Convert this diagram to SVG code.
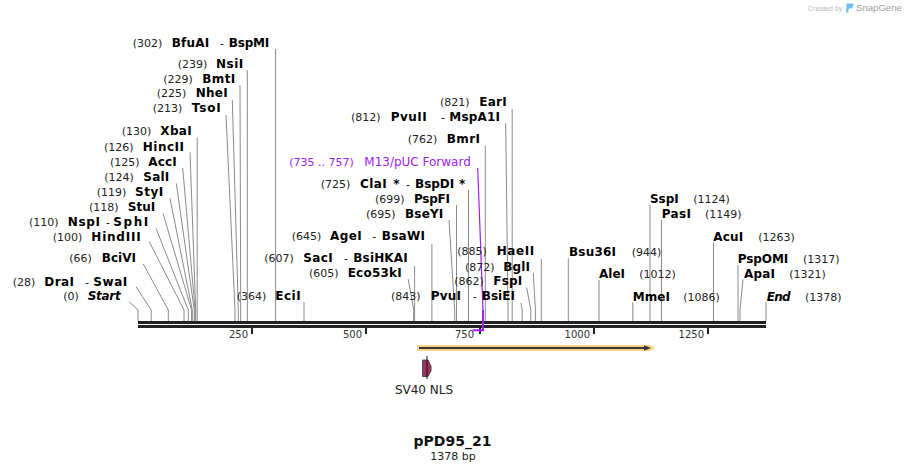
<svg xmlns="http://www.w3.org/2000/svg" width="905" height="471" viewBox="0 0 905 471">
<style>
text{font-family:"DejaVu Sans",Verdana,sans-serif}
.n{font-size:11px;fill:#222}
.e{font-size:12px;font-weight:bold;fill:#000}
.i{font-size:12px;font-weight:bold;font-style:italic;fill:#000}
.h{font-size:11px;fill:#000}
.t{font-size:10px;fill:#333}
.c{fill:none;stroke:#8a8a8a;stroke-width:1}
</style>
<rect width="905" height="471" fill="#fff"/>

<g id="logo">
<text x="808" y="10.5" style="font-family:'Liberation Sans',Arial,sans-serif;font-size:7px;fill:#bbb">Created by</text>
<path d="M846.5,3.5 L853,3.5 Q854,3.5 853.5,5 L852,8.5 L849,8.5 L848,12.5 L846,12.5 Z" fill="#6ec0f2"/>
<text x="856" y="11" style="font-family:'Liberation Sans',Arial,sans-serif;font-size:9.6px;fill:#a0a0a0">SnapGene</text>
</g>

<g id="connectors">
<path class="c" d="M275.6,49V321"/>
<path class="c" d="M247.3,70V321"/>
<path class="c" d="M240,85L240.7,310V321"/>
<path class="c" d="M232.3,100L238.3,310V321"/>
<path class="c" d="M226,115L235,310V321"/>
<path class="c" d="M197.2,137.7V321"/>
<path class="c" d="M190,152.3L195.7,310V321"/>
<path class="c" d="M182.7,168L195.1,310V321"/>
<path class="c" d="M176.3,183.3L194.3,310V321"/>
<path class="c" d="M170,198.3L192.3,310V321"/>
<path class="c" d="M163,213.3L191.6,310V321"/>
<path class="c" d="M156,228.3L188.3,310V321"/>
<path class="c" d="M149.3,241.7L184,310V321"/>
<path class="c" d="M143.3,264L168.3,310V321"/>
<path class="c" d="M136,286.7L151.2,310V321"/>
<path class="c" d="M129,301.7L138,310V321"/>
<path class="c" d="M304,302V321"/>
<path class="c" d="M512.2,109V321"/>
<path class="c" d="M505.7,123.3L508,310V321"/>
<path class="c" d="M485.3,145.7V321"/>
<path class="c" d="M468.5,190V321"/>
<path class="c" d="M456.5,205V321"/>
<path class="c" d="M449,220L454.7,310V321"/>
<path class="c" d="M431.9,244V321"/>
<path class="c" d="M414.6,266V321"/>
<path class="c" d="M408.3,279.3L413.7,310V321"/>
<path class="c" d="M521,303L522.2,310V321"/>
<path class="c" d="M541.3,259V321"/>
<path class="c" d="M533.3,272.7L535.4,310V321"/>
<path class="c" d="M526.7,287.7L530.8,310V321"/>
<path class="c" d="M568.3,258.3V321"/>
<path class="c" d="M599,280V321"/>
<path class="c" d="M632.8,302.3V321"/>
<path class="c" d="M650,205V321"/>
<path class="c" d="M661.5,220V321"/>
<path class="c" d="M713.5,242.3V321"/>
<path class="c" d="M738,265V321"/>
<path class="c" d="M743,279.3L740,310V321"/>
<path class="c" d="M766,302V321"/>
</g>

<g id="ruler">
<rect x="138" y="321" width="628" height="3" fill="#222"/>
<rect x="138" y="325" width="628" height="3" fill="#222"/>
<rect x="251" y="328" width="2" height="6" fill="#222"/>
<rect x="365" y="328" width="2" height="6" fill="#222"/>
<rect x="479" y="328" width="2" height="6" fill="#222"/>
<rect x="593" y="328" width="2" height="6" fill="#222"/>
<rect x="707" y="328" width="2" height="6" fill="#222"/>
<text class="t" x="248" y="337.5" text-anchor="end">250</text>
<text class="t" x="362" y="337.5" text-anchor="end">500</text>
<text class="t" x="474" y="337.5" text-anchor="end">750</text>
<text class="t" x="590" y="337.5" text-anchor="end">1000</text>
<text class="t" x="704" y="337.5" text-anchor="end">1250</text>
</g>

<g id="primer-M13pUC-Forward">
<text x="289.3" y="166" style="font-size:11px;fill:#a020f0">(735 .. 757)</text>
<text x="364.3" y="166" style="font-size:12px;fill:#a020f0">M13/pUC Forward</text>
<path d="M477.7,168L483,310" fill="none" stroke="#a020f0" stroke-width="1.2"/>
<path d="M483,310V330.2H472.5" fill="none" stroke="#a020f0" stroke-width="2"/>
</g>

<g id="feature-arrow">
<polygon points="417,345 650,345 655,348 650,351 417,351" fill="#fbd283"/>
<line x1="419" y1="348" x2="646" y2="348" stroke="#3a3a3a" stroke-width="2"/>
<polygon points="644,345.2 651,348 644,350.8" fill="#3a3a3a"/>
</g>

<g id="feature-SV40-NLS">
<polygon points="422.5,360 428,360 431,366 431,371 428,376.5 422.5,376.5" fill="#9b3566" stroke="#333" stroke-width="0.8"/>
<line x1="427" y1="356" x2="427" y2="379" stroke="#111" stroke-width="1"/>
<text x="424" y="394" text-anchor="middle" style="font-size:12px;fill:#222">SV40 NLS</text>
</g>

<g id="title">
<text x="452.5" y="446" text-anchor="middle" style="font-size:14px;font-weight:bold;fill:#111">pPD95_21</text>
<text x="453" y="459.5" text-anchor="middle" style="font-size:11px;fill:#222">1378 bp</text>
</g>

<g id="site-BfuAI-BspMI"><text class="n" x="132.7" y="46.7">(302)</text><text class="e" x="171.7" y="46.7" textLength="37.6" lengthAdjust="spacing">BfuAI</text><text class="h" x="220" y="46.7">-</text><text class="e" x="228.7" y="46.7" textLength="40.6" lengthAdjust="spacing">BspMI</text></g>
<g id="site-NsiI"><text class="n" x="177.7" y="67.7">(239)</text><text class="e" x="216" y="67.7" textLength="27.3" lengthAdjust="spacing">NsiI</text></g>
<g id="site-BmtI"><text class="n" x="163.3" y="83.3">(229)</text><text class="e" x="202.3" y="83.3" textLength="33" lengthAdjust="spacing">BmtI</text></g>
<g id="site-NheI"><text class="n" x="156.7" y="96.7">(225)</text><text class="e" x="195.7" y="96.7" textLength="32" lengthAdjust="spacing">NheI</text></g>
<g id="site-TsoI"><text class="n" x="152.7" y="111.7">(213)</text><text class="e" x="191.7" y="111.7" textLength="29" lengthAdjust="spacing">TsoI</text></g>
<g id="site-XbaI"><text class="n" x="121.7" y="135">(130)</text><text class="e" x="160.3" y="135" textLength="31.4" lengthAdjust="spacing">XbaI</text></g>
<g id="site-HincII"><text class="n" x="104" y="150.7">(126)</text><text class="e" x="142.7" y="150.7" textLength="41.3" lengthAdjust="spacing">HincII</text></g>
<g id="site-AccI"><text class="n" x="110" y="165.7">(125)</text><text class="e" x="148.3" y="165.7" textLength="28.4" lengthAdjust="spacing">AccI</text></g>
<g id="site-SalI"><text class="n" x="104.3" y="180.7">(124)</text><text class="e" x="143.3" y="180.7" textLength="26" lengthAdjust="spacing">SalI</text></g>
<g id="site-StyI"><text class="n" x="96.7" y="195.7">(119)</text><text class="e" x="135" y="195.7" textLength="28.3" lengthAdjust="spacing">StyI</text></g>
<g id="site-StuI"><text class="n" x="89" y="210.7">(118)</text><text class="e" x="127.7" y="210.7" textLength="27.6" lengthAdjust="spacing">StuI</text></g>
<g id="site-NspI-SphI"><text class="n" x="29" y="225.7">(110)</text><text class="e" x="67.7" y="225.7" textLength="32.3" lengthAdjust="spacing">NspI</text><text class="h" x="106" y="225.7">-</text><text class="e" x="113.3" y="225.7" textLength="35" lengthAdjust="spacing">SphI</text></g>
<g id="site-HindIII"><text class="n" x="52.7" y="240.7">(100)</text><text class="e" x="91.3" y="240.7" textLength="49.4" lengthAdjust="spacing">HindIII</text></g>
<g id="site-BciVI"><text class="n" x="69.3" y="262.3">(66)</text><text class="e" x="101.7" y="262.3" textLength="34.3" lengthAdjust="spacing">BciVI</text></g>
<g id="site-DraI-SwaI"><text class="n" x="12.7" y="285.7">(28)</text><text class="e" x="44.3" y="285.7" textLength="29.7" lengthAdjust="spacing">DraI</text><text class="h" x="85" y="285.7">-</text><text class="e" x="93.3" y="285.7" textLength="34" lengthAdjust="spacing">SwaI</text></g>
<g id="site-Start"><text class="n" x="63.3" y="300.3">(0)</text><text class="i" x="87.7" y="300.3" textLength="33" lengthAdjust="spacing">Start</text></g>
<g id="site-EciI"><text class="n" x="236.7" y="300.3">(364)</text><text class="e" x="275.3" y="300.3" textLength="25.4" lengthAdjust="spacing">EciI</text></g>

<g id="site-EarI"><text class="n" x="440" y="105.7">(821)</text><text class="e" x="479.3" y="105.7" textLength="27.4" lengthAdjust="spacing">EarI</text></g>
<g id="site-PvuII-MspA1I"><text class="n" x="351" y="120.7">(812)</text><text class="e" x="390.7" y="120.7" textLength="36" lengthAdjust="spacing">PvuII</text><text class="h" x="441" y="120.7">-</text><text class="e" x="449.3" y="120.7" textLength="50.7" lengthAdjust="spacing">MspA1I</text></g>
<g id="site-BmrI"><text class="n" x="407.7" y="143.3">(762)</text><text class="e" x="446.7" y="143.3" textLength="33.3" lengthAdjust="spacing">BmrI</text></g>
<g id="site-ClaI-BspDI"><text class="n" x="320.7" y="187.7">(725)</text><text class="e" x="360" y="187.7" textLength="26.7" lengthAdjust="spacing">ClaI</text><text class="e" x="393.3" y="187.7">*</text><text class="h" x="406" y="187.7">-</text><text class="e" x="415" y="187.7" textLength="39.3" lengthAdjust="spacing">BspDI</text><text class="e" x="459" y="187.7">*</text></g>
<g id="site-PspFI"><text class="n" x="375" y="202.7">(699)</text><text class="e" x="414" y="202.7" textLength="36" lengthAdjust="spacing">PspFI</text></g>
<g id="site-BseYI"><text class="n" x="366" y="217.7">(695)</text><text class="e" x="405" y="217.7" textLength="38.3" lengthAdjust="spacing">BseYI</text></g>
<g id="site-AgeI-BsaWI"><text class="n" x="291.7" y="240">(645)</text><text class="e" x="330" y="240" textLength="31.7" lengthAdjust="spacing">AgeI</text><text class="h" x="372.3" y="240">-</text><text class="e" x="381.7" y="240" textLength="43.3" lengthAdjust="spacing">BsaWI</text></g>
<g id="site-SacI-BsiHKAI"><text class="n" x="264.3" y="261.7">(607)</text><text class="e" x="303.3" y="261.7" textLength="29.4" lengthAdjust="spacing">SacI</text><text class="h" x="344" y="261.7">-</text><text class="e" x="353.3" y="261.7" textLength="54.4" lengthAdjust="spacing">BsiHKAI</text></g>
<g id="site-Eco53kI"><text class="n" x="309" y="276.7">(605)</text><text class="e" x="347.7" y="276.7" textLength="54" lengthAdjust="spacing">Eco53kI</text></g>
<g id="site-PvuI-BsiEI"><text class="n" x="391" y="300">(843)</text><text class="e" x="430.7" y="300" textLength="30.3" lengthAdjust="spacing">PvuI</text><text class="h" x="472.7" y="300">-</text><text class="e" x="481.7" y="300" textLength="33.3" lengthAdjust="spacing">BsiEI</text></g>
<g id="site-HaeII"><text class="n" x="457.3" y="255">(885)</text><text class="e" x="496.7" y="255" textLength="37.6" lengthAdjust="spacing">HaeII</text></g>
<g id="site-BglI"><text class="n" x="465" y="270.7">(872)</text><text class="e" x="503.3" y="270.7" textLength="26.7" lengthAdjust="spacing">BglI</text></g>
<g id="site-FspI"><text class="n" x="454.3" y="285">(862)</text><text class="e" x="493.3" y="285" textLength="29" lengthAdjust="spacing">FspI</text></g>

<g id="site-Bsu36I"><text class="e" x="569" y="256" textLength="47" lengthAdjust="spacing">Bsu36I</text><text class="n" x="631.7" y="256">(944)</text></g>
<g id="site-AleI"><text class="e" x="599" y="278.3" textLength="26" lengthAdjust="spacing">AleI</text><text class="n" x="639.3" y="278.3">(1012)</text></g>
<g id="site-MmeI"><text class="e" x="632.7" y="300.7" textLength="37.3" lengthAdjust="spacing">MmeI</text><text class="n" x="683.3" y="300.7">(1086)</text></g>
<g id="site-SspI"><text class="e" x="650" y="202.7" textLength="28.7" lengthAdjust="spacing">SspI</text><text class="n" x="693.3" y="202.7">(1124)</text></g>
<g id="site-PasI"><text class="e" x="661.7" y="217.7" textLength="29.3" lengthAdjust="spacing">PasI</text><text class="n" x="705" y="217.7">(1149)</text></g>
<g id="site-AcuI"><text class="e" x="713.3" y="240.7" textLength="30" lengthAdjust="spacing">AcuI</text><text class="n" x="758.3" y="240.7">(1263)</text></g>
<g id="site-PspOMI"><text class="e" x="737.7" y="262.7" textLength="50.6" lengthAdjust="spacing">PspOMI</text><text class="n" x="803" y="262.7">(1317)</text></g>
<g id="site-ApaI"><text class="e" x="744" y="277.7" textLength="31" lengthAdjust="spacing">ApaI</text><text class="n" x="789.3" y="277.7">(1321)</text></g>
<g id="site-End"><text class="i" x="766.7" y="300.7" textLength="24" lengthAdjust="spacing">End</text><text class="n" x="805" y="300.7">(1378)</text></g>
</svg>
